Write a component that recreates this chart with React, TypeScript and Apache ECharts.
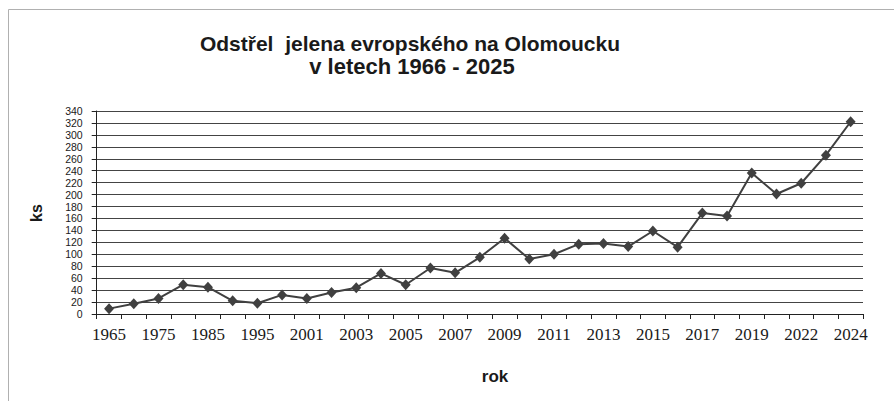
import React, { useEffect, useRef } from "react";
import * as echarts from "echarts";

const categories = ["1965","1970","1975","1980","1985","1990","1995","2000","2001","2002","2003","2004","2005","2006","2007","2008","2009","2010","2011","2012","2013","2014","2015","2016","2017","2018","2019","2020","2022","2023","2024"];
const values = [9,17,26,49,45,22,18,32,26,36,44,68,49,77,69,95,127,92,100,117,118,113,139,112,169,164,236,201,219,266,322];
const titleLine1 = "Odstřel  jelena evropského na Olomoucku";
const titleLine2 = "v letech 1966 - 2025";
const yName = "ks";
const xName = "rok";

const titleFont = {
  fontFamily: "Liberation Sans, Arial, sans-serif",
  fontWeight: "bold",
  fill: "#1a1a1a",
  align: "center",
  verticalAlign: "middle",
};

export default function App() {
  const ref = useRef<HTMLDivElement>(null);
  useEffect(() => {
    if (!ref.current) return;
    const chart = echarts.init(ref.current, null, { renderer: "svg" });
    chart.setOption({
      animation: false,
      backgroundColor: "#ffffff",
      grid: { left: 96.7, right: 31, top: 111, bottom: 87 },
      xAxis: {
        type: "category",
        data: categories,
        boundaryGap: true,
        axisLine: { show: true, lineStyle: { color: "#222", width: 1 } },
        axisTick: { show: true, interval: 0, length: 5, lineStyle: { color: "#222" } },
        axisLabel: {
          interval: 1,
          margin: 12,
          fontFamily: "Liberation Serif, Times New Roman, serif",
          fontSize: 17,
          color: "#1a1a1a",
        },
        splitLine: { show: false },
      },
      yAxis: {
        type: "value",
        min: 0,
        max: 340,
        interval: 20,
        axisLine: { show: true, lineStyle: { color: "#222", width: 1 } },
        axisTick: { show: true, length: 5, lineStyle: { color: "#222" } },
        axisLabel: {
          margin: 14,
          showMinLabel: true,
          showMaxLabel: true,
          hideOverlap: false,
          fontFamily: "Liberation Sans, Arial, sans-serif",
          fontSize: 10.5,
          lineHeight: 11,
          color: "#1a1a1a",
        },
        splitLine: { show: true, lineStyle: { color: "#444", width: 1 } },
      },
      graphic: [
        {
          type: "rect",
          shape: { x: 8.5, y: 9.5, width: 1000, height: 500 },
          style: { fill: "none", stroke: "#b0b0b0", lineWidth: 1 },
          silent: true,
        },
        {
          type: "text",
          x: 410,
          y: 43.5,
          style: { ...titleFont, text: titleLine1, fontSize: 21 },
        },
        {
          type: "text",
          x: 412,
          y: 66.5,
          style: { ...titleFont, text: titleLine2, fontSize: 22 },
        },
        {
          type: "text",
          x: 36,
          y: 213,
          rotation: Math.PI / 2,
          style: {
            text: yName,
            fontFamily: "Liberation Sans, Arial, sans-serif",
            fontWeight: "bold",
            fontSize: 16,
            fill: "#1a1a1a",
            align: "center",
            verticalAlign: "middle",
          },
        },
        {
          type: "text",
          x: 495,
          y: 376,
          style: {
            text: xName,
            fontFamily: "Liberation Sans, Arial, sans-serif",
            fontWeight: "bold",
            fontSize: 17,
            fill: "#1a1a1a",
            align: "center",
            verticalAlign: "middle",
          },
        },
      ],
      series: [
        {
          type: "line",
          data: values,
          symbol: "diamond",
          symbolSize: [10, 11],
          showSymbol: true,
          lineStyle: { color: "#404040", width: 2 },
          itemStyle: { color: "#404040" },
        },
      ],
    });
    return () => chart.dispose();
  }, []);
  return (
    <div
      ref={ref}
      style={{ position: "fixed", left: 0, top: 0, width: 894, height: 401 }}
    />
  );
}
